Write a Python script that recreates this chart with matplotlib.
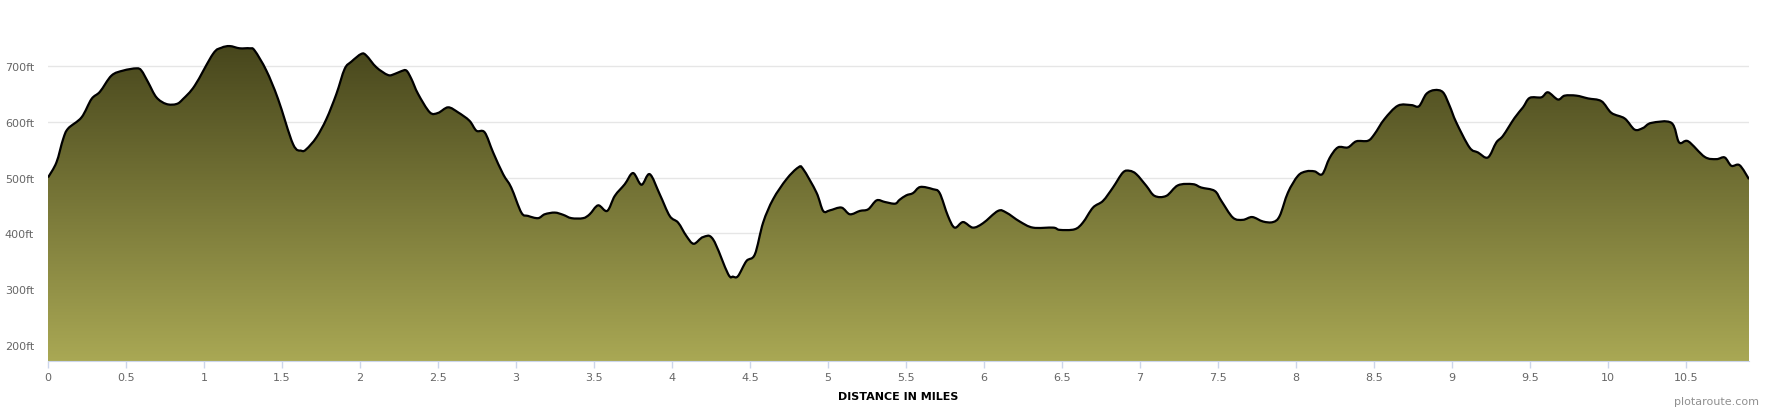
import numpy as np
import matplotlib
matplotlib.use("Agg")
import matplotlib.pyplot as plt
from matplotlib.colors import LinearSegmentedColormap
from matplotlib.path import Path
from matplotlib.patches import PathPatch

# elevation profile (miles, feet)
dist_mi = [0.0, 0.054, 0.097, 0.129, 0.215, 0.279, 0.333, 0.407, 0.482, 0.567, 0.599,
           0.642, 0.695, 0.759, 0.824, 0.866, 0.941, 1.058, 1.112, 1.165, 1.229, 1.293,
           1.325, 1.400, 1.475, 1.571, 1.625, 1.657, 1.721, 1.785, 1.849, 1.902, 1.945,
           2.009, 2.041, 2.105, 2.180, 2.223, 2.266, 2.298, 2.330, 2.373, 2.448, 2.501,
           2.565, 2.629, 2.702, 2.747, 2.800, 2.854, 2.918, 2.970, 3.035, 3.078, 3.142,
           3.185, 3.249, 3.303, 3.356, 3.431, 3.473, 3.527, 3.585, 3.634, 3.698, 3.751,
           3.805, 3.858, 3.922, 3.986, 4.040, 4.093, 4.140, 4.200, 4.264, 4.360, 4.392,
           4.424, 4.478, 4.532, 4.585, 4.649, 4.735, 4.810, 4.842, 4.927, 4.970, 5.013,
           5.087, 5.141, 5.205, 5.259, 5.313, 5.366, 5.431, 5.460, 5.503, 5.546, 5.593,
           5.674, 5.717, 5.770, 5.813, 5.867, 5.930, 5.995, 6.091, 6.144, 6.230, 6.315,
           6.445, 6.486, 6.582, 6.635, 6.700, 6.764, 6.828, 6.892, 6.935, 6.978, 7.042,
           7.095, 7.170, 7.245, 7.341, 7.394, 7.480, 7.523, 7.597, 7.661, 7.721, 7.790,
           7.854, 7.897, 7.950, 8.014, 8.067, 8.121, 8.170, 8.217, 8.270, 8.334, 8.388,
           8.463, 8.505, 8.569, 8.655, 8.741, 8.790, 8.837, 8.890, 8.944, 8.986, 9.029,
           9.114, 9.168, 9.232, 9.286, 9.329, 9.403, 9.457, 9.500, 9.575, 9.617, 9.681,
           9.724, 9.799, 9.874, 9.960, 10.024, 10.109, 10.173, 10.227, 10.280, 10.409,
           10.458, 10.516, 10.622, 10.697, 10.750, 10.793, 10.846, 10.906]
elev_ft = [500, 527, 569, 588, 608, 641, 654, 683, 692, 696, 692,
           671, 644, 632, 632, 641, 665, 722, 733, 736, 732, 732,
           728, 692, 641, 560, 548, 551, 572, 605, 650, 695, 708,
           722, 719, 698, 684, 686, 691, 692, 677, 650, 617, 616,
           626, 617, 602, 584, 581, 545, 506, 482, 437, 431, 427,
           434, 437, 433, 427, 427, 434, 450, 440, 467, 488, 508,
           487, 506, 470, 431, 419, 395, 381, 393, 389, 327, 322,
           323, 350, 362, 419, 461, 497, 518, 515, 473, 440, 441,
           446, 434, 440, 443, 459, 456, 453, 460, 468, 472, 483,
           479, 472, 431, 410, 420, 410, 418, 440, 437, 421, 410,
           410, 406, 407, 419, 446, 458, 482, 509, 512, 506, 485,
           467, 467, 486, 488, 482, 476, 458, 428, 424, 429, 421,
           420, 431, 473, 503, 511, 511, 506, 535, 554, 554, 565,
           566, 578, 605, 629, 630, 628, 650, 657, 653, 629, 599,
           554, 545, 536, 563, 575, 607, 626, 643, 644, 653, 640,
           647, 647, 642, 637, 616, 606, 586, 589, 598, 598,
           563, 565, 537, 533, 536, 521, 522, 497]

x_ticks = [0, 0.5, 1, 1.5, 2, 2.5, 3, 3.5, 4, 4.5, 5, 5.5, 6, 6.5, 7, 7.5, 8, 8.5, 9, 9.5, 10, 10.5]
x_tick_labels = ["0", "0.5", "1", "1.5", "2", "2.5", "3", "3.5", "4", "4.5", "5", "5.5",
                 "6", "6.5", "7", "7.5", "8", "8.5", "9", "9.5", "10", "10.5"]
y_ticks = [200, 300, 400, 500, 600, 700]
y_tick_labels = ["200ft", "300ft", "400ft", "500ft", "600ft", "700ft"]


def spline_path(xs, ys):
    """Cubic bezier through the points (Catmull-Rom control handles), like a spline series."""
    p = np.column_stack([xs, ys]).astype(float)
    n = len(p)
    verts, codes = [p[0]], [Path.MOVETO]
    for i in range(n - 1):
        p0 = p[max(i - 1, 0)]
        p3 = p[min(i + 2, n - 1)]
        c1 = p[i] + (p[i + 1] - p0) / 6
        c2 = p[i + 1] - (p3 - p[i]) / 6
        verts += [c1, c2, p[i + 1]]
        codes += [Path.CURVE4] * 3
    return verts, codes


W, H = 1770, 410
fig = plt.figure(figsize=(W / 100, H / 100), dpi=100)
ax = fig.add_axes([48 / W, 1 - 362 / H, (1749 - 48) / W, (362 - 17) / H])

ymin, ymax = 170.5, 790
ax.set_xlim(0, dist_mi[-1])
ax.set_ylim(ymin, ymax)

verts, codes = spline_path(dist_mi, elev_ft)
line_path = Path(verts, codes)
area_path = Path(verts + [(dist_mi[-1], ymin), (dist_mi[0], ymin), verts[0]],
                 codes + [Path.LINETO, Path.LINETO, Path.CLOSEPOLY])

# gradient fill under the profile, clipped to the area
cmap = LinearSegmentedColormap.from_list("olive", ["#a9a854", "#3e3d17"])
grad = np.linspace(0, 1, 256).reshape(-1, 1)
img = ax.imshow(grad, cmap=cmap, aspect="auto", origin="lower",
                extent=[0, dist_mi[-1], ymin, ymax], zorder=2)
img.set_clip_path(area_path, transform=ax.transData)
ax.add_patch(PathPatch(line_path, facecolor="none", edgecolor="black", lw=1.6,
                       joinstyle="round", zorder=3))

ax.set_yticks(y_ticks, y_tick_labels)
ax.set_xticks(x_ticks, x_tick_labels)
ax.grid(axis="y", color="#e6e6e6", lw=1)
ax.set_axisbelow(True)
ax.tick_params(axis="y", length=0, pad=10, labelsize=8, labelcolor="#666666")
ax.tick_params(axis="x", length=5, width=1, color="#ccd6eb", pad=3, labelsize=8, labelcolor="#666666")
for s in ("top", "right", "left"):
    ax.spines[s].set_visible(False)
ax.spines["bottom"].set_color("#ccd6eb")
ax.spines["bottom"].set_zorder(4)

fig.text(0.5 * (48 + 1749) / W, 1 - 397 / H, "DISTANCE IN MILES", ha="center", va="center",
         fontsize=8, fontweight="bold", color="black")
fig.text(1759 / W, 1 - 402 / H, "plotaroute.com", ha="right", va="center",
         fontsize=8, color="#909090")

fig.savefig("out.png", dpi=100)
